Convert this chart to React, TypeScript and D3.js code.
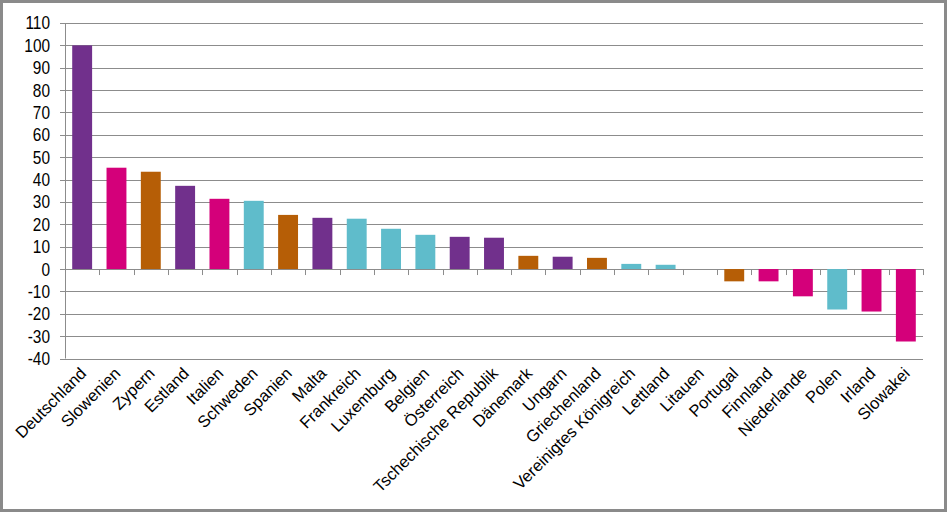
import React from "react";
import * as d3 from "d3";

const countries = [
  "Deutschland", "Slowenien", "Zypern", "Estland", "Italien", "Schweden", "Spanien", "Malta",
  "Frankreich", "Luxemburg", "Belgien", "Österreich", "Tschechische Republik", "Dänemark", "Ungarn",
  "Griechenland", "Vereinigtes Königreich", "Lettland", "Litauen", "Portugal", "Finnland",
  "Niederlande", "Polen", "Irland", "Slowakei",
];
const values = [
  100, 45.3, 43.5, 37.2, 31.4, 30.5, 24.2, 22.9,
  22.5, 18.0, 15.3, 14.4, 14.0, 5.9, 5.5,
  5.0, 2.3, 1.9, 0, -5.5, -5.5,
  -12.2, -18.1, -19.0, -32.4,
];
const groups = [
  "p", "m", "o", "p", "m", "c", "o", "p",
  "c", "c", "c", "p", "p", "o", "p",
  "o", "c", "c", "c", "o", "m",
  "m", "c", "m", "m",
];
const yTicks = [110, 100, 90, 80, 70, 60, 50, 40, 30, 20, 10, 0, -10, -20, -30, -40];

const colors: Record<string, string> = {
  p: "#71308C",
  m: "#D4007A",
  o: "#B65E06",
  c: "#5FBCCB",
};

export default function App() {
  const W = 947, H = 512;
  const left = 65, right = 923, top = 23, bottom = 358.5;
  const x = d3.scaleBand<string>().domain(countries).range([left, right]).paddingInner(0.42).paddingOuter(0.21);
  const y = d3.scaleLinear().domain([-40, 110]).range([bottom, top]);
  const step = x.step();
  const font = "'Liberation Sans', Arial, sans-serif";
  return (
    <svg width={W} height={H} style={{ position: "absolute", left: 0, top: 0, background: "#fff" }}>
      <rect x={1.5} y={1.5} width={W - 3} height={H - 3} fill="#fff" stroke="#8a8a8a" strokeWidth={3} />
      {yTicks.map((t) => (
        <g key={t}>
          <line x1={60} x2={right} y1={Math.round(y(t)) + 0.5} y2={Math.round(y(t)) + 0.5} stroke="#8c8c8c" strokeWidth={1} />
          <text x={50} y={y(t) + 6.5} textAnchor="end" fontFamily={font} fontSize={17.5} fill="#000" transform={`translate(50,0) scale(0.88,1) translate(-50,0)`}>
            {t}
          </text>
        </g>
      ))}
      <line x1={left + 0.5} x2={left + 0.5} y1={top} y2={bottom} stroke="#8c8c8c" />
      {countries.map((c, i) => (
        <line key={"tk" + i} x1={Math.round(left + step * (i + 1)) + 0.5} x2={Math.round(left + step * (i + 1)) + 0.5} y1={y(0)} y2={y(0) + 6} stroke="#8c8c8c" />
      ))}
      {countries.map((c, i) => {
        const v = values[i];
        const y0 = y(0), y1 = y(v);
        return (
          <rect key={c} x={x(c)} width={x.bandwidth()} y={Math.min(y0, y1)} height={Math.abs(y1 - y0)} fill={colors[groups[i]]} />
        );
      })}
      {countries.map((c, i) => {
        const cx = (x(c) as number) + x.bandwidth() / 2 + 5;
        const cy = bottom + 16;
        return (
          <text key={"l" + c} x={cx} y={cy} textAnchor="end" fontFamily={font} fontSize={16.5} fill="#000" transform={`rotate(-45 ${cx} ${cy})`}>
            {c}
          </text>
        );
      })}
    </svg>
  );
}
